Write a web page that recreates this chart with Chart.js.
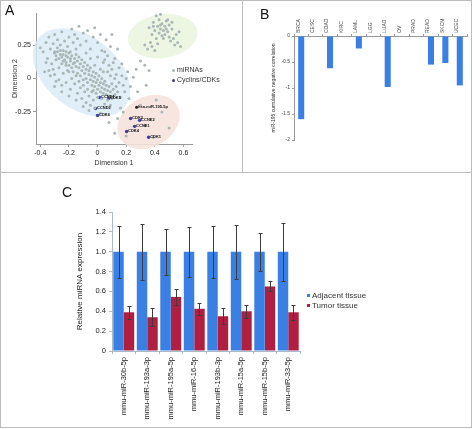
<!DOCTYPE html>
<html>
<head>
<meta charset="utf-8">
<script src="https://cdn.jsdelivr.net/npm/chart.js@4/dist/chart.umd.min.js"></script>
<style>
body { margin: 0; background: #fff; font-family: "Liberation Sans", Arial, sans-serif; }
#fig { position: relative; width: 472px; height: 429px; overflow: hidden; }
#fig canvas { position: absolute; }
.frame { position: absolute; left: 0; top: 0; width: 472px; height: 428px; box-sizing: border-box; border: 1px solid #bdbdbd; }
.rule { position: absolute; background: #bdbdbd; }
.letter { position: absolute; font-size: 14px; line-height: 14px; color: #111; }
.leg { position: absolute; color: #333; white-space: nowrap; }
.leg i { display: inline-block; vertical-align: middle; margin-right: 2px; }
</style>
</head>
<body>
<div id="fig">
  <div class="frame"></div>
  <div class="rule" style="left:242px;top:0;width:1px;height:172px"></div>
  <div class="rule" style="left:0;top:172px;width:472px;height:1px"></div>

  <canvas id="chartA" width="242" height="172" style="left:0;top:0"></canvas>
  <canvas id="chartB" width="230" height="172" style="left:242px;top:0"></canvas>
  <canvas id="chartC" width="472" height="256" style="left:0;top:173px"></canvas>

  <div class="letter" style="left:5px;top:3px">A</div>
  <div class="letter" style="left:260px;top:7px">B</div>
  <div class="letter" style="left:62px;top:185px">C</div>

  <div class="leg" style="left:172px;top:66px;font-size:7px"><i style="width:3px;height:3px;border-radius:50%;background:#aab8b7"></i>miRNAs</div>
  <div class="leg" style="left:172px;top:76px;font-size:7px"><i style="width:3px;height:3px;border-radius:50%;background:#3d3d9e"></i>Cyclins/CDKs</div>

  <div class="leg" style="left:307px;top:291px;font-size:8px"><i style="width:3px;height:3px;background:#3a7fe4"></i>Adjacent tissue</div>
  <div class="leg" style="left:307px;top:301px;font-size:8px"><i style="width:3px;height:3px;background:#b01f3f"></i>Tumor tissue</div>
</div>

<script>
// ---- panel A: MDS of miRNAs and cyclins/CDKs ----
const mirnaMain = [
  [-0.38,0.2],[-0.36,0.27],[-0.35,0.15],[-0.34,0.31],[-0.33,0.22],[-0.32,0.11],[-0.31,0.26],[-0.3,0.19],[-0.3,0.33],[-0.29,0.14],
  [-0.28,0.23],[-0.28,0.29],[-0.27,0.08],[-0.26,0.18],[-0.26,0.25],[-0.25,0.35],[-0.24,0.13],[-0.24,0.21],[-0.23,0.28],[-0.22,0.1],
  [-0.22,0.17],[-0.21,0.24],[-0.2,0.31],[-0.2,0.05],[-0.19,0.15],[-0.19,0.2],[-0.18,0.37],[-0.17,0.27],[-0.16,0.12],[-0.16,0.33],
  [-0.15,0.22],[-0.14,0.3],[-0.13,0.39],[-0.12,0.25],[-0.1,0.34],[-0.08,0.28],[-0.07,0.36],[-0.05,0.22],[-0.03,0.31],[-0.02,0.38],
  [0.0,0.27],[0.02,0.33],[0.05,0.2],[0.06,0.29],[0.09,0.24],[0.12,0.15],[0.1,0.33],[0.14,0.22],[0.04,0.12],[-0.4,0.23],
  [-0.37,0.05],[-0.33,0.02],[-0.29,-0.02],[-0.25,-0.05],[-0.31,0.07],[-0.36,0.12],
  [-0.3,0.2],[-0.29,0.17],[-0.28,0.2],[-0.27,0.15],[-0.26,0.21],[-0.25,0.16],[-0.25,0.11],[-0.24,0.18],[-0.23,0.14],[-0.22,0.2],
  [-0.22,0.12],[-0.21,0.16],[-0.2,0.1],[-0.2,0.19],[-0.19,0.13],[-0.18,0.08],[-0.18,0.17],[-0.17,0.11],[-0.17,0.05],[-0.16,0.15],
  [-0.15,0.09],[-0.15,0.18],[-0.14,0.04],[-0.14,0.13],[-0.13,0.08],[-0.13,0.16],[-0.12,0.11],[-0.12,0.02],[-0.11,0.06],[-0.11,0.14],
  [-0.1,0.09],[-0.1,-0.01],[-0.09,0.04],[-0.09,0.12],[-0.08,0.07],[-0.08,0.0],[-0.07,0.1],[-0.07,-0.03],[-0.06,0.03],[-0.06,0.06],
  [-0.05,-0.01],[-0.05,0.08],[-0.04,0.02],[-0.04,-0.05],[-0.03,0.05],[-0.03,-0.02],[-0.02,-0.06],[-0.02,0.01],[-0.01,-0.03],[-0.01,0.04],
  [0.0,-0.08],[0.0,-0.01],[0.01,-0.05],[0.01,0.02],[0.02,-0.1],[0.02,-0.03],[0.03,-0.07],[0.03,0.0],[0.04,-0.04],[0.04,-0.11],
  [0.05,-0.08],[0.05,-0.02],[0.06,-0.12],[0.06,-0.05],[0.07,-0.09],[0.08,-0.06],[0.08,-0.13],[0.09,-0.1],[0.1,-0.04],[0.11,-0.08],
  [0.12,-0.12],[0.13,-0.06],[-0.01,-0.11],[-0.03,-0.09],[0.0,-0.14],[0.03,-0.15],[0.07,-0.16],[0.1,-0.15],[0.14,-0.1],[0.15,-0.03],
  [0.12,0.0],[0.09,0.02],[0.07,0.05],[0.16,-0.14],
  [-0.34,0.06],[-0.3,0.03],[-0.27,-0.01],[-0.24,0.04],[-0.22,-0.03],[-0.21,0.06],[-0.19,-0.08],[-0.18,0.0],[-0.16,-0.04],[-0.15,0.02],
  [-0.14,-0.11],[-0.13,-0.02],[-0.12,-0.07],[-0.11,-0.15],[-0.1,-0.05],[-0.09,-0.1],[-0.08,-0.18],[-0.07,-0.08],[-0.06,-0.13],[-0.05,-0.2],
  [-0.04,-0.1],[-0.03,-0.16],[-0.02,-0.22],[-0.06,-0.24],[-0.1,-0.21],[-0.15,-0.16],[-0.2,-0.13],[-0.25,-0.1],[0.05,-0.19],[0.09,-0.2],
  [0.02,-0.26],[-0.3,-0.06],
  [-0.02,0.1],[0.0,0.16],[0.02,0.07],[0.04,0.05],[0.05,0.14],[0.08,0.1],[0.1,0.07],[0.11,0.12],[0.13,0.03],[0.15,0.08],
  [0.17,0.02],[0.18,-0.05],[0.2,0.0],[0.17,0.11],[0.19,-0.1],[0.21,0.05],[-0.05,0.15],[-0.08,0.19],[0.03,0.21],[0.07,0.17]
];
const mirnaGreen = [
  [0.36,0.38],[0.38,0.33],[0.39,0.42],[0.4,0.36],[0.41,0.3],[0.42,0.39],[0.43,0.34],[0.43,0.44],[0.44,0.37],[0.45,0.32],
  [0.45,0.41],[0.46,0.36],[0.47,0.39],[0.47,0.33],[0.48,0.43],[0.48,0.37],[0.49,0.35],[0.5,0.4],[0.5,0.31],[0.51,0.28],
  [0.52,0.37],[0.53,0.3],[0.54,0.25],[0.56,0.27],[0.58,0.24],[0.55,0.33],[0.41,0.47],[0.44,0.48],[0.37,0.27],[0.35,0.22],
  [0.38,0.24],[0.4,0.21],[0.42,0.26],[0.33,0.25],[0.46,0.3],[0.39,0.39],[0.44,0.4],[0.49,0.44],[0.52,0.42],[0.57,0.35]
];
const mirnaStray = [
  [0.27,0.07],[0.3,0.13],[0.33,0.1],[0.36,0.06],[0.25,0.01],[0.23,-0.06],[0.22,-0.15],[0.16,-0.22],[0.14,-0.3],[0.18,-0.25],
  [0.12,-0.41],[0.08,-0.33],[0.5,-0.37],[0.39,-0.44],[0.33,-0.35],[0.3,-0.2],[0.41,-0.16],[0.45,-0.25],[0.2,-0.43],[0.28,-0.1],[0.34,-0.05]
];
const cyclinNames = ['CCND1', 'CDK5', 'CCND2', 'CDK6', 'CDK2', 'CCNE2', 'CCNE1', 'CDK4', 'CDK1'];
const cyclinX = [0.014, 0.077, -0.014, 0.0, 0.231, 0.294, 0.259, 0.203, 0.357];
const cyclinY = [-0.142, -0.149, -0.224, -0.276, -0.299, -0.313, -0.358, -0.396, -0.44];
const mir195 = { name: 'hsa-miR-195-5p', x: 0.273, y: -0.216 };
const dimTicks = [-0.4, -0.2, 0, 0.2, 0.4, 0.6];
const dim2Ticks = [-0.25, 0, 0.25];

// shaded cluster outlines (centre/radii in data units, angle in degrees)
const clusterShapes = [
  { cx: -0.112, cy: 0.045, rx: 0.385, ry: 0.269, angle: 38, color: 'rgba(216,234,246,0.8)' },
  { cx: 0.455, cy: 0.317, rx: 0.245, ry: 0.164, angle: -8, color: 'rgba(234,244,222,0.85)' },
  { cx: 0.357, cy: -0.325, rx: 0.231, ry: 0.187, angle: -30, color: 'rgba(246,226,221,0.9)' }
];

// ---- panel B: TCGA cumulative negative correlation ----
const tcgaCodes = ['BRCA', 'CESC', 'COAD', 'KIRC', 'LAML', 'LGG', 'LUAD', 'OV', 'PRAD', 'READ', 'SKCM', 'UCEC'];
const correlationValues = [-1.6, 0, -0.62, 0, -0.24, 0, -0.98, 0, 0, -0.55, -0.52, -0.95];

// ---- panel C: qPCR ----
const mirnaNames = ['mmu-miR-30b-5p', 'mmu-miR-193a-3p', 'mmu-miR-195a-5p', 'mmu-miR-16-5p',
                    'mmu-miR-193b-3p', 'mmu-miR-15a-5p', 'mmu-miR-15b-5p', 'mmu-miR-33-5p'];
const adjacentMean = [1, 1, 1, 1, 1, 1, 1, 1];
const adjacentErr = [0.26, 0.28, 0.23, 0.25, 0.26, 0.27, 0.19, 0.29];
const tumorMean = [0.39, 0.34, 0.545, 0.425, 0.35, 0.40, 0.65, 0.39];
const tumorErr = [0.065, 0.09, 0.08, 0.06, 0.08, 0.067, 0.05, 0.078];

const BLUE = '#3a7fe4';
const RED = '#b01f3f';
const AXIS = '#9a9a9a';
const FONT = '"Liberation Sans", Arial, sans-serif';

Chart.defaults.font.family = FONT;
Chart.defaults.color = '#222';

function toXY(arr) { return arr.map(p => ({ x: p[0], y: p[1] })); }

const clusterPlugin = {
  id: 'clusters',
  beforeDatasetsDraw(chart) {
    const { ctx, scales: { x, y } } = chart;
    clusterShapes.forEach(c => {
      const px = x.getPixelForValue(c.cx), py = y.getPixelForValue(c.cy);
      const rx = Math.abs(x.getPixelForValue(c.cx + c.rx) - px);
      const ry = Math.abs(y.getPixelForValue(c.cy + c.ry) - py);
      ctx.save();
      ctx.fillStyle = c.color;
      ctx.beginPath();
      ctx.ellipse(px, py, rx, ry, c.angle * Math.PI / 180, 0, Math.PI * 2);
      ctx.fill();
      ctx.restore();
    });
  }
};

const geneLabelPlugin = {
  id: 'geneLabels',
  afterDatasetsDraw(chart) {
    const { ctx, scales: { x, y } } = chart;
    ctx.save();
    ctx.fillStyle = '#111';
    ctx.font = 'bold 4px ' + FONT;
    ctx.textBaseline = 'middle';
    cyclinNames.forEach((n, i) => {
      ctx.fillText(n, x.getPixelForValue(cyclinX[i]) + 1.5, y.getPixelForValue(cyclinY[i]) - 0.5);
    });
    ctx.fillText(mir195.name, x.getPixelForValue(mir195.x) + 1.5, y.getPixelForValue(mir195.y));
    ctx.restore();
  }
};

new Chart(document.getElementById('chartA'), {
  type: 'scatter',
  data: {
    datasets: [
      { label: 'miRNAs', data: toXY(mirnaMain.concat(mirnaGreen, mirnaStray)), pointRadius: 1.5,
        backgroundColor: '#aab8b7', borderWidth: 0 },
      { label: 'Cyclins/CDKs', data: cyclinX.map((v, i) => ({ x: v, y: cyclinY[i] })), pointRadius: 1.7,
        backgroundColor: '#3d3d9e', borderWidth: 0 },
      { label: mir195.name, data: [{ x: mir195.x, y: mir195.y }], pointRadius: 1.5,
        backgroundColor: '#222', borderWidth: 0 }
    ]
  },
  options: {
    responsive: false,
    animation: false,
    layout: { padding: { left: 0, right: 50, top: 13, bottom: 0 } },
    plugins: { legend: { display: false }, tooltip: { enabled: false } },
    scales: {
      x: {
        min: -0.43, max: 0.66,
        afterBuildTicks: s => { s.ticks = dimTicks.map(v => ({ value: v })); },
        afterFit: s => { s.height = 28; },
        ticks: { font: { size: 7 }, padding: 2, callback: v => String(Math.round(v * 10) / 10) },
        grid: { drawOnChartArea: false, tickLength: 3, color: AXIS },
        border: { color: AXIS },
        title: { display: true, text: 'Dimension 1', font: { size: 7 }, color: '#333', padding: { top: 0, bottom: 5 } }
      },
      y: {
        min: -0.49, max: 0.49,
        afterBuildTicks: s => { s.ticks = dim2Ticks.map(v => ({ value: v })); },
        afterFit: s => { s.width = 36; },
        ticks: { font: { size: 7 }, padding: 2, callback: v => String(v) },
        grid: { drawOnChartArea: false, tickLength: 3, color: AXIS },
        border: { color: AXIS },
        title: { display: true, text: 'Dimension 2', font: { size: 7 }, color: '#333', padding: { top: 11, bottom: 0 } }
      }
    }
  },
  plugins: [clusterPlugin, geneLabelPlugin]
});

new Chart(document.getElementById('chartB'), {
  type: 'bar',
  data: {
    labels: tcgaCodes,
    datasets: [{ data: correlationValues, backgroundColor: BLUE, barPercentage: 0.42, categoryPercentage: 1 }]
  },
  options: {
    responsive: false,
    animation: false,
    layout: { padding: { left: 0, right: 5, top: 0, bottom: 32 } },
    plugins: { legend: { display: false }, tooltip: { enabled: false } },
    scales: {
      x: {
        position: 'top',
        afterFit: s => { s.height = 36; },
        ticks: { font: { size: 5 }, color: '#444', minRotation: 90, maxRotation: 90, autoSkip: false, padding: 1, labelOffset: 3 },
        grid: { drawOnChartArea: false, tickLength: 2, color: AXIS },
        border: { color: AXIS }
      },
      y: {
        min: -2, max: 0,
        afterFit: s => { s.width = 52; },
        ticks: { stepSize: 0.5, font: { size: 5 }, color: '#444', padding: 2, callback: v => String(v) },
        grid: { drawOnChartArea: false, tickLength: 2, color: AXIS },
        border: { color: AXIS },
        title: { display: true, text: 'miR-195 cumulative negative correlation', font: { size: 5 }, color: '#333',
                 padding: { top: 29, bottom: 0 } }
      }
    }
  }
});

const errorBarPlugin = {
  id: 'errorBars',
  afterDatasetsDraw(chart) {
    const { ctx, scales: { y } } = chart;
    chart.data.datasets.forEach((ds, i) => {
      chart.getDatasetMeta(i).data.forEach((bar, j) => {
        const x = Math.round(bar.x) + 0.5;
        const hi = Math.round(y.getPixelForValue(ds.data[j] + ds.errors[j])) + 0.5;
        const lo = Math.round(y.getPixelForValue(ds.data[j] - ds.errors[j])) + 0.5;
        ctx.save();
        ctx.strokeStyle = '#3c3c3c';
        ctx.lineWidth = 1;
        ctx.beginPath();
        ctx.moveTo(x, hi); ctx.lineTo(x, lo);
        ctx.moveTo(x - 2, hi); ctx.lineTo(x + 2, hi);
        ctx.moveTo(x - 2, lo); ctx.lineTo(x + 2, lo);
        ctx.stroke();
        ctx.restore();
      });
    });
  }
};

new Chart(document.getElementById('chartC'), {
  type: 'bar',
  data: {
    labels: mirnaNames,
    datasets: [
      { label: 'Adjacent tissue', data: adjacentMean, errors: adjacentErr, backgroundColor: BLUE },
      { label: 'Tumor tissue', data: tumorMean, errors: tumorErr, backgroundColor: RED }
    ]
  },
  options: {
    responsive: false,
    animation: false,
    datasets: { bar: { categoryPercentage: 0.89, barPercentage: 1 } },
    layout: { padding: { left: 71, right: 172, top: 39, bottom: 0 } },
    plugins: { legend: { display: false }, tooltip: { enabled: false } },
    scales: {
      x: {
        afterFit: s => { s.height = 78; },
        ticks: { font: { size: 7.5 }, minRotation: 90, maxRotation: 90, autoSkip: false, padding: 3 },
        grid: { drawOnChartArea: false, tickLength: 3, color: '#a9bccb' },
        border: { color: '#a9bccb' }
      },
      y: {
        min: 0, max: 1.4,
        afterFit: s => { s.width = 41; },
        ticks: { stepSize: 0.2, font: { size: 7.5 }, padding: 3, callback: v => v === 0 ? '0' : v.toFixed(1) },
        grid: { drawOnChartArea: false, tickLength: 3, color: '#a9bccb' },
        border: { color: '#a9bccb' },
        title: { display: true, text: 'Relative miRNA expression', font: { size: 8 }, color: '#222', padding: { top: 4, bottom: 0 } }
      }
    }
  },
  plugins: [errorBarPlugin]
});
</script>
</body>
</html>
